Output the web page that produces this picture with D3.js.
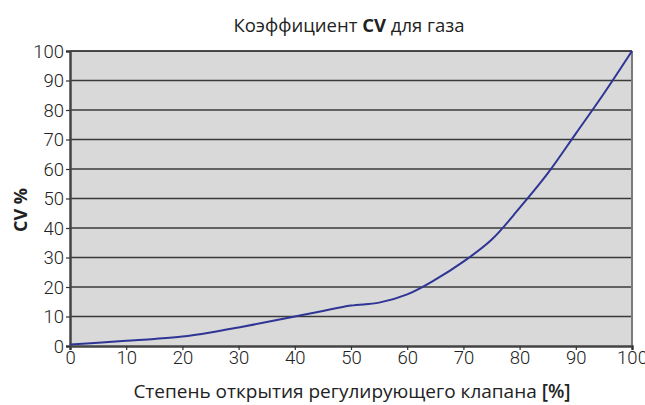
<!DOCTYPE html>
<html>
<head>
<meta charset="utf-8">
<script src="https://cdn.jsdelivr.net/npm/d3@7"></script>
<style>
  html, body { margin: 0; padding: 0; background: #fff; }
  svg { display: block; }
</style>
</head>
<body>
<div id="chart"></div>
<script>
// valve opening, %
const opening = [0, 5, 10, 15, 20, 25, 30, 35, 40, 45, 50, 55, 60, 65, 70, 75, 80, 85, 90, 95, 100];
// CV, %
const cvValues = [0.5, 1.1, 1.8, 2.4, 3.2, 4.6, 6.3, 8.1, 10.0, 11.9, 13.7, 14.7, 17.5, 22.5, 28.6, 36.0, 46.8, 58.5, 72.0, 85.6, 100];
const xTicks = [0, 10, 20, 30, 40, 50, 60, 70, 80, 90, 100];
const yTicks = [0, 10, 20, 30, 40, 50, 60, 70, 80, 90, 100];

const W = 645, H = 405;
const margin = {top: 51, right: 13, bottom: 59, left: 70};
const chtW = W - margin.left - margin.right;
const chtH = H - margin.top - margin.bottom;

const svg = d3.select('#chart').append('svg').attr('width', W).attr('height', H);

// title
const title = svg.append('text')
    .attr('x', margin.left + chtW / 2 - 2)
    .attr('y', 32)
    .attr('text-anchor', 'middle')
    .attr('font-family', 'Open Sans, sans-serif')
    .attr('font-size', 18.5)
    .attr('fill', '#222');
title.append('tspan').text('Коэффициент ');
title.append('tspan').attr('font-weight', 'bold').text('CV');
title.append('tspan').text(' для газа');

const g = svg.append('g').attr('transform', 'translate(' + margin.left + ',' + margin.top + ')');

const x = d3.scaleLinear().domain([0, 100]).range([0, chtW]);
const y = d3.scaleLinear().domain([0, 100]).range([chtH, 0]);

// plot background
g.append('rect')
    .attr('width', chtW).attr('height', chtH)
    .attr('fill', '#d9d9d9');

// horizontal grid
g.append('g')
  .selectAll('line')
  .data(yTicks.filter(d => d > 0))
  .join('line')
    .attr('x1', 0).attr('x2', chtW)
    .attr('y1', d => y(d)).attr('y2', d => y(d))
    .attr('stroke', d => d === 100 ? '#111' : '#3a3a3a')
    .attr('stroke-width', 1.4);

// right border
g.append('line')
    .attr('x1', chtW).attr('x2', chtW)
    .attr('y1', 0).attr('y2', chtH)
    .attr('stroke', '#7a7a7a').attr('stroke-width', 2);

// axes
const tickFont = 'Roboto, sans-serif';
const xAxis = g.append('g')
    .attr('transform', 'translate(0,' + chtH + ')')
    .call(d3.axisBottom(x).tickValues(xTicks).tickSize(4).tickPadding(1).tickFormat(d3.format('d')));
const yAxis = g.append('g')
    .call(d3.axisLeft(y).tickValues(yTicks).tickSize(4).tickPadding(2).tickFormat(d3.format('d')));

[xAxis, yAxis].forEach(a => {
  a.select('.domain').attr('stroke', '#444').attr('stroke-width', 2.5);
  a.selectAll('.tick line').attr('stroke', '#333').attr('stroke-width', 1.2);
  a.selectAll('.tick text')
    .attr('font-family', tickFont)
    .attr('font-weight', 300)
    .attr('font-size', 18.5)
    .attr('fill', '#222');
});
yAxis.selectAll('.tick text').attr('dy', '0.35em');

// curve
const line = d3.line()
    .x((d, i) => x(opening[i]))
    .y(d => y(d))
    .curve(d3.curveCatmullRom.alpha(0.5));

g.append('path')
    .datum(cvValues)
    .attr('fill', 'none')
    .attr('stroke', '#2f3595')
    .attr('stroke-width', 2)
    .attr('stroke-linejoin', 'round')
    .attr('d', line);

// axis titles
const xTitle = svg.append('text')
    .attr('x', margin.left + chtW / 2 + 1)
    .attr('y', 398)
    .attr('text-anchor', 'middle')
    .attr('font-family', 'Open Sans, sans-serif')
    .attr('font-size', 19)
    .attr('fill', '#222');
xTitle.append('tspan').text('Степень открытия регулирующего клапана ');
xTitle.append('tspan').attr('font-weight', 600).text('[%]');

svg.append('text')
    .attr('transform', 'translate(27,' + 210 + ') rotate(-90)')
    .attr('text-anchor', 'middle')
    .attr('font-family', 'Open Sans, sans-serif')
    .attr('font-weight', 'bold')
    .attr('font-size', 18)
    .attr('fill', '#222')
    .text('CV %');
</script>
</body>
</html>
